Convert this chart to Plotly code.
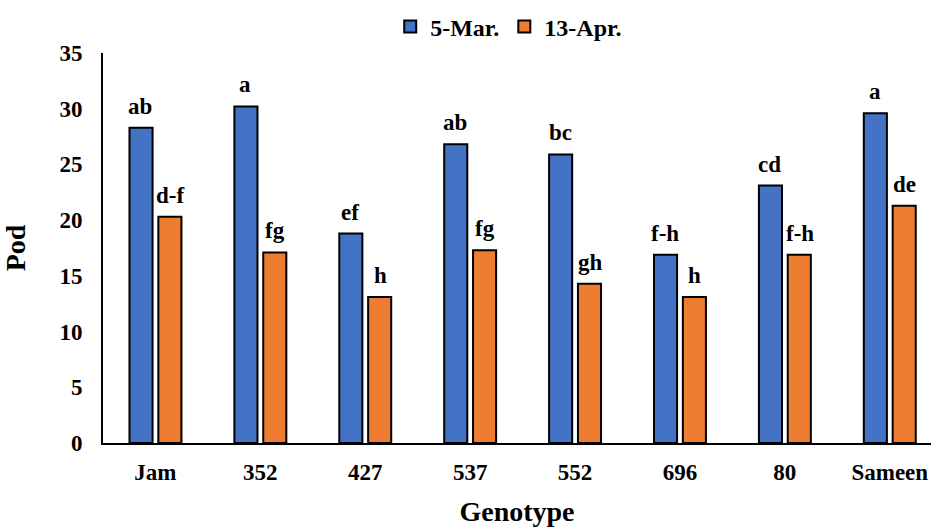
import plotly.graph_objects as go

genotypes = ["Jam", "352", "427", "537", "552", "696", "80", "Sameen"]
mar5 = [28.3, 30.2, 18.8, 26.8, 25.9, 16.9, 23.1, 29.6]
apr13 = [20.3, 17.1, 13.1, 17.3, 14.3, 13.1, 16.9, 21.3]
mar5_letters = ["ab", "a", "ef", "ab", "bc", "f-h", "cd", "a"]
apr13_letters = ["d-f", "fg", "h", "fg", "gh", "h", "f-h", "de"]
y_ticks = [0, 5, 10, 15, 20, 25, 30, 35]

FONT = "Liberation Serif"


def font(size):
    return dict(family=FONT, size=size, color="black")


def b(s):
    return "<b>" + s + "</b>"


fig = go.Figure()
fig.add_trace(go.Bar(
    name=b("5-Mar."), x=genotypes, y=mar5,
    marker=dict(color="#4472C4", line=dict(color="black", width=2)),
    hoverinfo="skip",
))
fig.add_trace(go.Bar(
    name=b("13-Apr."), x=genotypes, y=apr13,
    marker=dict(color="#ED7D31", line=dict(color="black", width=2)),
    hoverinfo="skip",
))

# significance letters above bars (category index, shifted to each bar of the group)
for series, letters, shift in [(mar5, mar5_letters, -15), (apr13, apr13_letters, 15)]:
    for i, (v, t) in enumerate(zip(series, letters)):
        fig.add_annotation(x=i, y=v, text=b(t), showarrow=False,
                           xanchor="center", yanchor="bottom",
                           xshift=shift, yshift=7, font=font(23))

fig.update_layout(
    width=931, height=527,
    margin=dict(l=103, r=0, t=53, b=84, autoexpand=False),
    paper_bgcolor="white", plot_bgcolor="white",
    barmode="group", bargap=0.45, bargroupgap=0.2,
    font=font(21),
    legend=dict(orientation="h", x=0.49, xanchor="center", y=1.067, yanchor="middle",
                font=font(24), itemwidth=30, traceorder="normal"),
    xaxis=dict(
        type="category",
        range=[-0.5, 7.393], showline=True, linecolor="black", linewidth=2,
        ticks="", showgrid=False, ticklabelstandoff=7, automargin=False,
        tickfont=font(23), tickvals=genotypes, ticktext=[b(g) for g in genotypes],
        title=dict(text=b("Genotype"), standoff=21, font=font(28)),
    ),
    yaxis=dict(
        range=[0, 35], tickvals=y_ticks, ticktext=[b(str(v)) for v in y_ticks],
        showline=True, linecolor="black", linewidth=2,
        ticks="", showgrid=False, zeroline=False, ticklabelstandoff=14, automargin=False,
        tickfont=font(23),
        title=dict(text=b("Pod"), standoff=26, font=font(28)),
    ),
)

fig.write_html("out.html", config={"displayModeBar": False},
               post_script="document.body.style.margin='0';")
